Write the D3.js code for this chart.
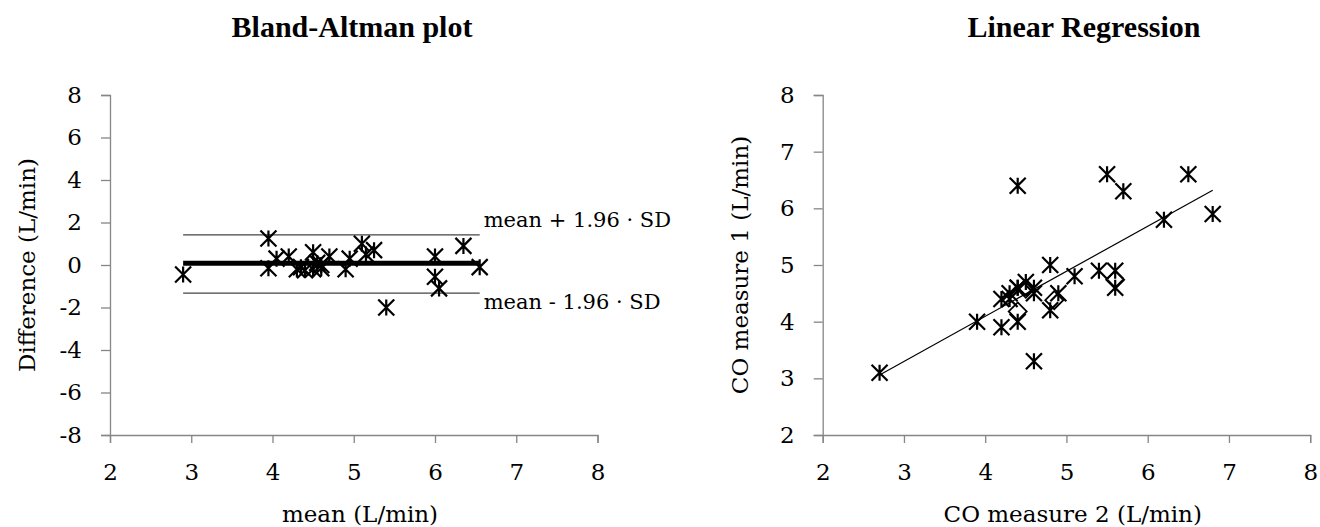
<!DOCTYPE html>
<html>
<head>
<meta charset="utf-8">
<script src="https://cdn.jsdelivr.net/npm/d3@7"></script>
<style>
  body { margin: 0; background: #fff; }
  .axis path, .axis line { stroke: #868686; stroke-width: 1.3; }
</style>
</head>
<body>
<div id="chart"></div>
<script>
// Bland-Altman: mean of the two measures vs difference
var baMean = [2.9, 3.95, 3.95, 4.05, 4.2, 4.3, 4.35, 4.4, 4.5, 4.5, 4.55, 4.6, 4.6, 4.7, 4.9, 4.95, 5.1, 5.15, 5.25, 5.4, 6.0, 6.0, 6.05, 6.35, 6.55];
var baDiff = [-0.45, -0.15, 1.25, 0.3, 0.4, -0.2, -0.1, -0.25, -0.2, 0.6, 0.1, 0.0, -0.15, 0.4, -0.2, 0.3, 1.0, 0.5, 0.7, -2.0, 0.4, -0.55, -1.1, 0.9, -0.1];
var baLines = [1.42, 0.08, -1.32];          // +1.96 SD, mean, -1.96 SD
var baLineRange = [2.9, 6.55];

// Linear regression: CO measure 2 (x) vs CO measure 1 (y)
var co2 = [2.7, 3.9, 4.6, 4.2, 4.2, 4.3, 4.3, 4.4, 4.4, 4.4, 4.4, 4.5, 4.6, 4.6, 4.8, 4.8, 4.9, 5.1, 5.4, 5.5, 5.6, 5.6, 5.7, 6.2, 6.5, 6.8];
var co1 = [3.1, 4.0, 3.3, 3.9, 4.4, 4.4, 4.5, 4.6, 4.0, 6.4, 4.6, 4.7, 4.6, 4.5, 5.0, 4.2, 4.5, 4.8, 4.9, 6.6, 4.9, 4.6, 6.3, 5.8, 6.6, 5.9];
// a few points drawn with an open diamond marker
var dmX = [4.4, 4.5, 4.85, 5.6];
var dmY = [4.18, 4.58, 4.38, 4.74];
var regX = [2.7, 6.8];
var regY = [3.06, 6.32];

var xTicks = [2, 3, 4, 5, 6, 7, 8];
var baYTicks = [-8, -6, -4, -2, 0, 2, 4, 6, 8];
var lrYTicks = [2, 3, 4, 5, 6, 7, 8];

var W = 1320, H = 527;
var FONT = "'DejaVu Serif', 'Liberation Serif', serif";
var svg = d3.select("#chart").append("svg")
    .attr("width", W).attr("height", H);

function star(g, px, py) {
  var r = 8;
  g.append("path")
    .attr("d", "M" + (px - r) + "," + (py - r) + "L" + (px + r) + "," + (py + r) +
               "M" + (px - r) + "," + (py + r) + "L" + (px + r) + "," + (py - r) +
               "M" + px + "," + (py - r) + "L" + px + "," + (py + r))
    .attr("stroke", "#000")
    .attr("stroke-width", 2.2)
    .attr("fill", "none");
}

function diamond(g, px, py) {
  var r = 9;
  g.append("path")
    .attr("d", "M" + px + "," + (py - r) + "L" + (px + r) + "," + py +
               "L" + px + "," + (py + r) + "L" + (px - r) + "," + py + "Z")
    .attr("stroke", "#000")
    .attr("stroke-width", 1.8)
    .attr("fill", "none");
}

function panel(opt) {
  var x = d3.scaleLinear().domain([2, 8]).range([opt.left, opt.left + 487.5]);
  var y = d3.scaleLinear().domain(opt.yDomain).range([435, 95]);
  var g = svg.append("g");
  var fmt = function(d) { return String(d); };

  var xa = g.append("g")
      .attr("class", "axis")
      .attr("transform", "translate(0,435)")
      .call(d3.axisBottom(x).tickValues(xTicks).tickSize(8).tickPadding(21).tickSizeOuter(8).tickFormat(fmt));
  var ya = g.append("g")
      .attr("class", "axis")
      .attr("transform", "translate(" + opt.left + ",0)")
      .call(d3.axisLeft(y).tickValues(opt.yTicks).tickSize(9).tickPadding(19).tickSizeOuter(9).tickFormat(fmt));
  g.selectAll(".axis text")
      .style("font-family", FONT)
      .style("font-size", "23px")
      .attr("fill", "#000");

  g.append("text")
      .attr("x", opt.titleX).attr("y", 37)
      .attr("text-anchor", "middle")
      .style("font-family", "'Liberation Serif', serif")
      .style("font-size", "30px").style("font-weight", "bold")
      .text(opt.title);
  g.append("text")
      .attr("x", opt.left + 250).attr("y", 522)
      .attr("text-anchor", "middle")
      .style("font-family", FONT)
      .style("font-size", "23px")
      .text(opt.xLabel);
  g.append("text")
      .attr("transform", "translate(" + (opt.left - 75) + ",265) rotate(-90)")
      .attr("text-anchor", "middle")
      .style("font-family", FONT)
      .style("font-size", "23px")
      .text(opt.yLabel);

  return {g: g, x: x, y: y};
}

// ---- left panel
var p1 = panel({left: 110, yDomain: [-8, 8], yTicks: baYTicks, titleX: 352,
  title: "Bland-Altman plot", xLabel: "mean (L/min)", yLabel: "Difference (L/min)"});

baLines.forEach(function(v, i) {
  p1.g.append("line")
      .attr("x1", p1.x(baLineRange[0])).attr("x2", p1.x(baLineRange[1]))
      .attr("y1", p1.y(v)).attr("y2", p1.y(v))
      .attr("stroke", i == 1 ? "#000" : "#444")
      .attr("stroke-width", i == 1 ? 5 : 1.2);
});
baMean.forEach(function(m, i) { star(p1.g, p1.x(m), p1.y(baDiff[i])); });

p1.g.append("text")
    .attr("x", p1.x(baLineRange[1]) + 4).attr("y", p1.y(baLines[0]) - 8)
    .style("font-family", FONT)
    .style("font-size", "21px")
    .text("mean + 1.96 \u00b7 SD");
p1.g.append("text")
    .attr("x", p1.x(baLineRange[1]) + 4).attr("y", p1.y(baLines[2]) + 16)
    .style("font-family", FONT)
    .style("font-size", "21px")
    .text("mean - 1.96 \u00b7 SD");

// ---- right panel
var p2 = panel({left: 822.7, yDomain: [2, 8], yTicks: lrYTicks, titleX: 1084,
  title: "Linear Regression", xLabel: "CO measure 2 (L/min)", yLabel: "CO measure 1 (L/min)"});

p2.g.append("line")
    .attr("x1", p2.x(regX[0])).attr("y1", p2.y(regY[0]))
    .attr("x2", p2.x(regX[1])).attr("y2", p2.y(regY[1]))
    .attr("stroke", "#000").attr("stroke-width", 1.2);
dmX.forEach(function(v, i) { diamond(p2.g, p2.x(v), p2.y(dmY[i])); });
co2.forEach(function(v, i) { star(p2.g, p2.x(v), p2.y(co1[i])); });
</script>
</body>
</html>
